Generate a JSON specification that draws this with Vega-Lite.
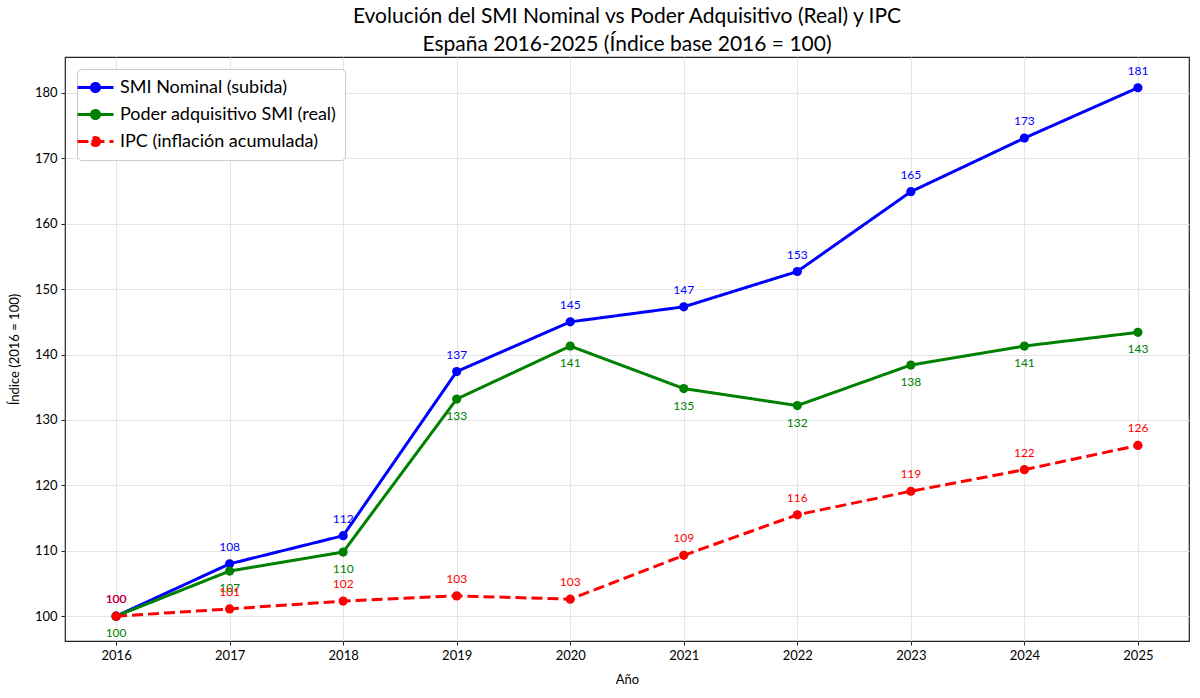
{
  "$schema": "https://vega.github.io/schema/vega-lite/v6.json",
  "width": 1124,
  "height": 584,
  "autosize": "none",
  "padding": {"left": 65, "top": 57, "right": 11, "bottom": 57},
  "background": "white",
  "title": {
    "text": ["Evolución del SMI Nominal vs Poder Adquisitivo (Real) y IPC", "España 2016-2025 (Índice base 2016 = 100)"],
    "font": "Lato",
    "fontSize": 21,
    "fontWeight": "normal",
    "color": "black",
    "anchor": "middle",
    "offset": 2,
    "lineHeight": 28
  },
  "config": {
    "font": "Lato",
    "view": {"stroke": "#222", "strokeWidth": 1.2},
    "axis": {
      "labelFont": "Lato", "labelFontSize": 13, "labelColor": "black",
      "titleFont": "Lato", "titleFontSize": 13, "titleFontWeight": "normal", "titleColor": "black",
      "gridColor": "#e5e5e5", "gridWidth": 1,
      "tickColor": "#222", "tickSize": 4, "domain": false
    }
  },
  "data": {
    "values": [
      {"year": 2016, "series": "SMI Nominal (subida)", "value": 100.0},
      {"year": 2017, "series": "SMI Nominal (subida)", "value": 108.0},
      {"year": 2018, "series": "SMI Nominal (subida)", "value": 112.3},
      {"year": 2019, "series": "SMI Nominal (subida)", "value": 137.4},
      {"year": 2020, "series": "SMI Nominal (subida)", "value": 145.0},
      {"year": 2021, "series": "SMI Nominal (subida)", "value": 147.3},
      {"year": 2022, "series": "SMI Nominal (subida)", "value": 152.7},
      {"year": 2023, "series": "SMI Nominal (subida)", "value": 164.9},
      {"year": 2024, "series": "SMI Nominal (subida)", "value": 173.1},
      {"year": 2025, "series": "SMI Nominal (subida)", "value": 180.8},
      {"year": 2016, "series": "Poder adquisitivo SMI (real)", "value": 100.0},
      {"year": 2017, "series": "Poder adquisitivo SMI (real)", "value": 106.9},
      {"year": 2018, "series": "Poder adquisitivo SMI (real)", "value": 109.8},
      {"year": 2019, "series": "Poder adquisitivo SMI (real)", "value": 133.2},
      {"year": 2020, "series": "Poder adquisitivo SMI (real)", "value": 141.3},
      {"year": 2021, "series": "Poder adquisitivo SMI (real)", "value": 134.8},
      {"year": 2022, "series": "Poder adquisitivo SMI (real)", "value": 132.2},
      {"year": 2023, "series": "Poder adquisitivo SMI (real)", "value": 138.4},
      {"year": 2024, "series": "Poder adquisitivo SMI (real)", "value": 141.3},
      {"year": 2025, "series": "Poder adquisitivo SMI (real)", "value": 143.4},
      {"year": 2016, "series": "IPC (inflación acumulada)", "value": 100.0},
      {"year": 2017, "series": "IPC (inflación acumulada)", "value": 101.1},
      {"year": 2018, "series": "IPC (inflación acumulada)", "value": 102.3},
      {"year": 2019, "series": "IPC (inflación acumulada)", "value": 103.1},
      {"year": 2020, "series": "IPC (inflación acumulada)", "value": 102.6},
      {"year": 2021, "series": "IPC (inflación acumulada)", "value": 109.3},
      {"year": 2022, "series": "IPC (inflación acumulada)", "value": 115.5},
      {"year": 2023, "series": "IPC (inflación acumulada)", "value": 119.1},
      {"year": 2024, "series": "IPC (inflación acumulada)", "value": 122.4},
      {"year": 2025, "series": "IPC (inflación acumulada)", "value": 126.1}
    ]
  },
  "encoding": {
    "x": {
      "field": "year", "type": "quantitative",
      "scale": {"domain": [2015.55, 2025.45], "nice": false, "zero": false},
      "axis": {"title": "Año", "values": [2016, 2017, 2018, 2019, 2020, 2021, 2022, 2023, 2024, 2025], "format": "d", "labelPadding": 4, "titleY": 32}
    },
    "y": {
      "field": "value", "type": "quantitative",
      "scale": {"domain": [96.2, 185.5], "nice": false, "zero": false},
      "axis": {"title": "Índice (2016 = 100)", "values": [100, 110, 120, 130, 140, 150, 160, 170, 180], "labelPadding": 4, "titleX": -44}
    }
  },
  "layer": [
    {
      "mark": {"type": "line", "strokeWidth": 3, "point": {"filled": true, "size": 85, "opacity": 1}},
      "encoding": {
        "color": {
          "field": "series", "type": "nominal",
          "scale": {
            "domain": ["SMI Nominal (subida)", "Poder adquisitivo SMI (real)", "IPC (inflación acumulada)"],
            "range": ["#0000ff", "#008000", "#ff0000"]
          },
          "legend": {
            "title": null, "orient": "top-left", "offset": 12, "padding": 8,
            "strokeColor": "#cccccc", "fillColor": "white", "cornerRadius": 4,
            "labelFont": "Lato", "labelFontSize": 18, "labelColor": "black", "labelOffset": 14,
            "labelLimit": 400, "rowPadding": 6,
            "symbolType": "M-2,0H2M0.45,0A0.45,0.45,0,1,1,-0.45,0A0.45,0.45,0,1,1,0.45,0Z",
            "symbolSize": 324, "symbolStrokeWidth": 3,
            "encode": {"symbols": {"update": {"fill": {"scale": "color", "field": "value"}, "fillOpacity": {"value": 1}, "opacity": {"value": 1}}}}
          }
        },
        "strokeDash": {
          "field": "series", "type": "nominal",
          "scale": {
            "domain": ["SMI Nominal (subida)", "Poder adquisitivo SMI (real)", "IPC (inflación acumulada)"],
            "range": [[1, 0], [1, 0], [11, 5]]
          }
        }
      }
    },
    {
      "transform": [{"filter": "datum.series == 'SMI Nominal (subida)'"}],
      "mark": {"type": "text", "dy": -17, "fontSize": 12, "color": "#0000ff", "font": "Lato"},
      "encoding": {"text": {"field": "value", "type": "quantitative", "format": ".0f"}}
    },
    {
      "transform": [{"filter": "datum.series == 'Poder adquisitivo SMI (real)'"}],
      "mark": {"type": "text", "dy": 17, "fontSize": 12, "color": "#008000", "font": "Lato"},
      "encoding": {"text": {"field": "value", "type": "quantitative", "format": ".0f"}}
    },
    {
      "transform": [{"filter": "datum.series == 'IPC (inflación acumulada)'"}],
      "mark": {"type": "text", "dy": -17, "fontSize": 12, "color": "#ff0000", "font": "Lato"},
      "encoding": {"text": {"field": "value", "type": "quantitative", "format": ".0f"}}
    }
  ]
}
